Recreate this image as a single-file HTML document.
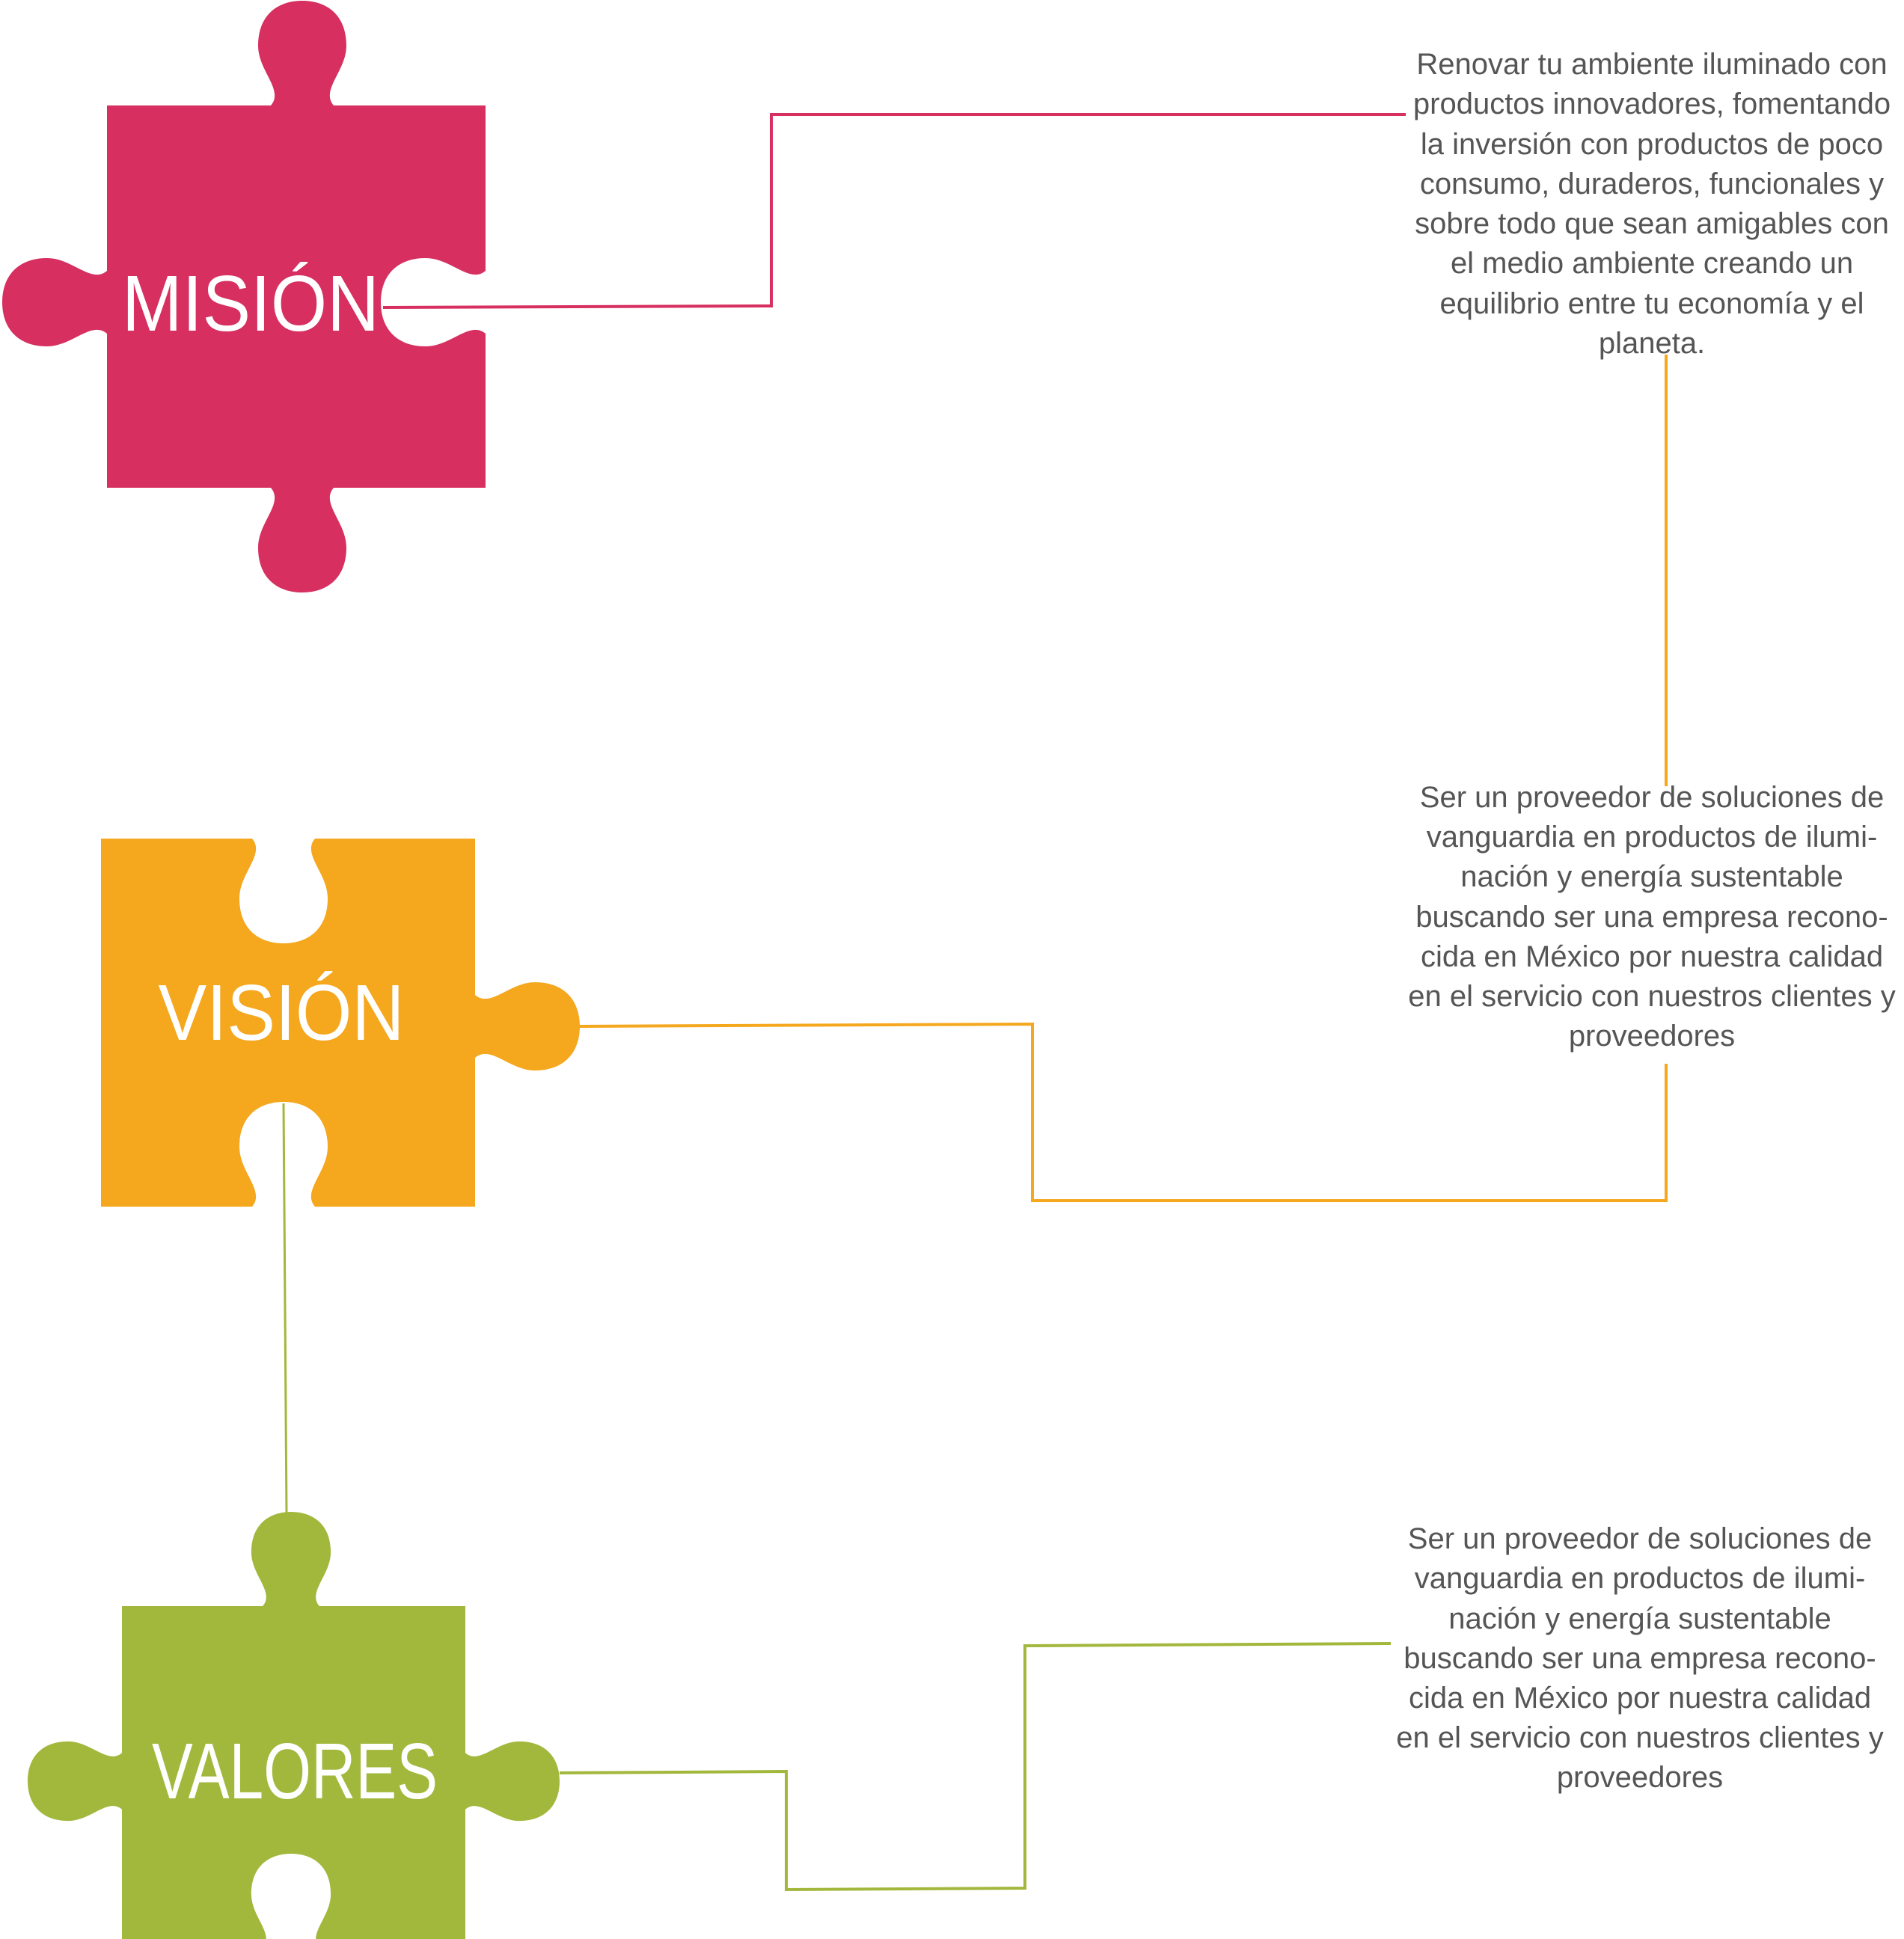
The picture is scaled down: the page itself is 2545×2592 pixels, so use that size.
<!DOCTYPE html>
<html><head><meta charset="utf-8"><style>
html,body{margin:0;padding:0;background:#fff;width:2545px;height:2592px;overflow:hidden}
svg{display:block}
.t{font-family:"Liberation Sans",sans-serif;font-size:40px;fill:#555;text-anchor:middle}
.h{font-family:"Liberation Sans",sans-serif;font-size:106px;fill:#fff;text-anchor:middle}
</style></head><body>
<svg width="2545" height="2592" viewBox="0 0 2545 2592" xmlns="http://www.w3.org/2000/svg">
<defs>
<path id="k" d="M-42,6 L-42,0 C-24,-21 -59,-46 -59,-80 C-59,-120 -34,-140 0,-140 C34,-140 59,-120 59,-80 C59,-46 24,-21 42,0 L42,6 Z"/>
</defs>
<g fill="#D62F60">
<rect x="143" y="141" width="506" height="511"/>
<use href="#k" transform="translate(404,141)"/>
<use href="#k" transform="translate(404,652) rotate(180)"/>
<use href="#k" transform="translate(143,404) rotate(-90)"/>
</g>
<use href="#k" fill="#fff" transform="translate(649,404) rotate(-90)"/>
<g fill="#F5A71E">
<rect x="135" y="1121" width="500" height="492"/>
<use href="#k" transform="translate(635,1372) rotate(90)"/>
</g>
<use href="#k" fill="#fff" transform="translate(379,1121) rotate(180)"/>
<use href="#k" fill="#fff" transform="translate(379,1613)"/>
<g fill="#A2B83C">
<rect x="163" y="2147" width="459" height="460"/>
<use href="#k" transform="translate(389,2147) scale(0.9)"/>
<use href="#k" transform="translate(163,2381) rotate(-90) scale(0.9)"/>
<use href="#k" transform="translate(622,2381) rotate(90) scale(0.9)"/>
</g>
<use href="#k" fill="#fff" transform="translate(389,2604) scale(0.9)"/>

<polyline points="512,411 1031,409 1031,153 1879,153" fill="none" stroke="#D62F60" stroke-width="4"/>
<polyline points="2227,474 2227,1051" fill="none" stroke="#F5A71E" stroke-width="4"/>
<polyline points="2227,1422 2227,1605 1380,1605 1380,1369 770,1372" fill="none" stroke="#F5A71E" stroke-width="4"/>
<polyline points="379,1475 383,2024" fill="none" stroke="#A2B83C" stroke-width="3"/>
<polyline points="748,2370 1051,2368 1051,2526 1370,2524 1370,2200 1859,2197" fill="none" stroke="#A2B83C" stroke-width="4"/>

<text class="h" x="335" y="442" textLength="344" lengthAdjust="spacingAndGlyphs">MISIÓN</text>
<text class="h" x="376" y="1390" textLength="329" lengthAdjust="spacingAndGlyphs">VISIÓN</text>
<text class="h" x="394" y="2404" textLength="382" lengthAdjust="spacingAndGlyphs">VALORES</text>

<g class="t">
<text x="2208" y="99">Renovar tu ambiente iluminado con</text>
<text x="2208" y="152">productos innovadores, fomentando</text>
<text x="2208" y="206">la inversión con productos de poco</text>
<text x="2208" y="259">consumo, duraderos, funcionales y</text>
<text x="2208" y="312">sobre todo que sean amigables con</text>
<text x="2208" y="365">el medio ambiente creando un</text>
<text x="2208" y="419">equilibrio entre tu economía y el</text>
<text x="2208" y="472">planeta.</text>
</g>
<g class="t">
<text x="2208" y="1079">Ser un proveedor de soluciones de</text>
<text x="2208" y="1132">vanguardia en productos de ilumi-</text>
<text x="2208" y="1185">nación y energía sustentable</text>
<text x="2208" y="1239">buscando ser una empresa recono-</text>
<text x="2208" y="1292">cida en México por nuestra calidad</text>
<text x="2208" y="1345">en el servicio con nuestros clientes y</text>
<text x="2208" y="1398">proveedores</text>
</g>
<g class="t">
<text x="2192" y="2070">Ser un proveedor de soluciones de</text>
<text x="2192" y="2123">vanguardia en productos de ilumi-</text>
<text x="2192" y="2177">nación y energía sustentable</text>
<text x="2192" y="2230">buscando ser una empresa recono-</text>
<text x="2192" y="2283">cida en México por nuestra calidad</text>
<text x="2192" y="2336">en el servicio con nuestros clientes y</text>
<text x="2192" y="2389">proveedores</text>
</g>
</svg>
</body></html>
